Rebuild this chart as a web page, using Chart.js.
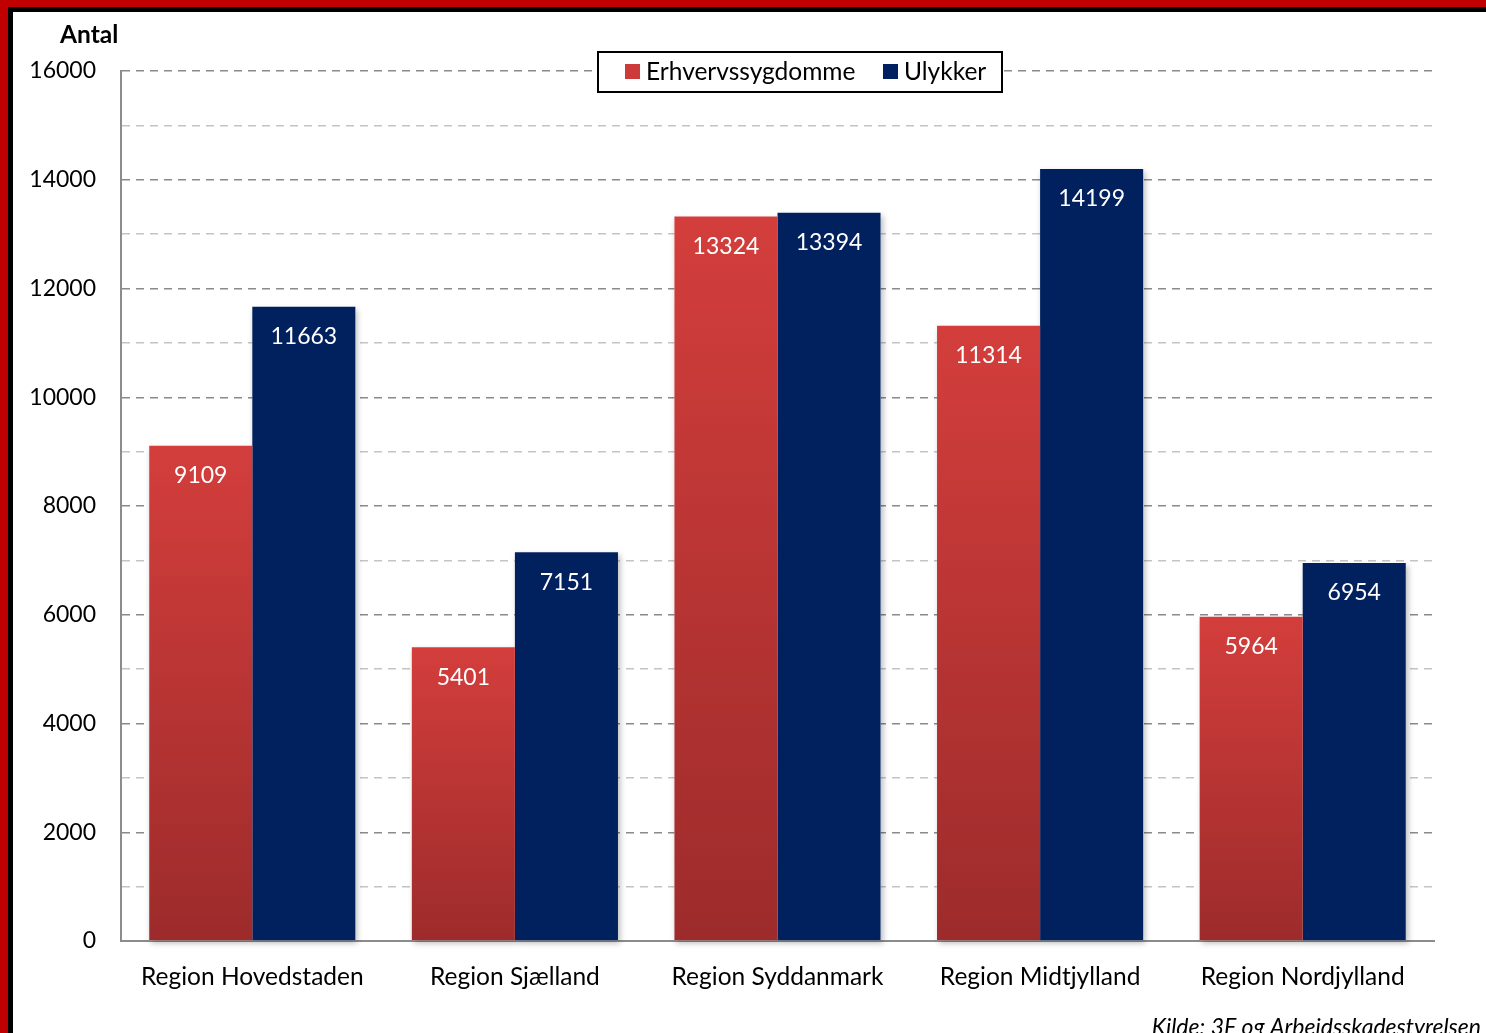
<!DOCTYPE html>
<html>
<head>
<meta charset="utf-8">
<script src="https://cdn.jsdelivr.net/npm/chart.js@4/dist/chart.umd.min.js"></script>
<style>
  html, body { margin: 0; padding: 0; background: #fff; }
  #wrap { position: relative; width: 1486px; height: 1033px; overflow: hidden; }
  canvas { position: absolute; left: 0; top: 0; }
</style>
</head>
<body>
<div id="wrap"><canvas id="chart" width="1486" height="1033"></canvas></div>
<script>
// data
const regions = ['Region Hovedstaden', 'Region Sjælland', 'Region Syddanmark', 'Region Midtjylland', 'Region Nordjylland'];
const erhvervssygdomme = [9109, 5401, 13324, 11314, 5964];
const ulykker = [11663, 7151, 13394, 14199, 6954];
const seriesNames = ['Erhvervssygdomme', 'Ulykker'];
const yMax = 16000;

const FONT = 'Lato, "Open Sans", sans-serif';

// red bars get their own top-to-bottom gradient
const redFill = (context) => {
    const chart = context.chart;
    const area = chart.chartArea;
    if (!area || context.type !== 'data') return '#c9393a';
    const y = chart.scales.y;
    const top = y.getPixelForValue(context.parsed.y);
    const base = y.getPixelForValue(0);
    const g = chart.ctx.createLinearGradient(0, top, 0, base);
    g.addColorStop(0, '#d33e3c');
    g.addColorStop(1, '#9d2b2b');
    return g;
};

// frame, title, legend, source, value labels
const decor = {
    id: 'decor',
    beforeDraw(chart) {
        const c = chart.ctx;
        c.save();
        c.fillStyle = '#c00000';
        c.fillRect(0, 0, chart.width, 7);
        c.fillRect(0, 0, 8, chart.height);
        c.fillStyle = '#000';
        c.fillRect(8, 7, chart.width, 5);
        c.fillRect(8, 7, 5, chart.height);
        c.restore();
    },
    beforeDatasetsDraw(chart) {
        // soft shadow under the bars
        const c = chart.ctx;
        c.save();
        c.shadowColor = 'rgba(0,0,0,0.28)';
        c.shadowBlur = 6;
        c.shadowOffsetX = 2;
        c.shadowOffsetY = 3;
        c.fillStyle = '#fff';
        chart.data.datasets.forEach((ds, i) => {
            chart.getDatasetMeta(i).data.forEach((bar) => {
                c.fillRect(bar.x - bar.width / 2, bar.y, bar.width, bar.base - bar.y);
            });
        });
        c.restore();
    },
    afterDatasetsDraw(chart) {
        const c = chart.ctx;
        c.save();
        c.font = '23px ' + FONT;
        c.fillStyle = '#fff';
        c.textAlign = 'center';
        c.textBaseline = 'middle';
        chart.data.datasets.forEach((ds, i) => {
            chart.getDatasetMeta(i).data.forEach((bar, j) => {
                c.fillText(String(ds.data[j]), bar.x, bar.y + 30);
            });
        });
        c.restore();
    },
    afterDraw(chart) {
        const c = chart.ctx;
        c.save();
        // axis title
        c.font = 'bold 24.5px ' + FONT;
        c.fillStyle = '#000';
        c.textBaseline = 'middle';
        c.textAlign = 'left';
        c.fillText('Antal', 60, 35);

        // legend box
        const lx = 598, ly = 52, lw = 404, lh = 40;
        c.fillStyle = '#fff';
        c.fillRect(lx, ly, lw, lh);
        c.lineWidth = 2;
        c.strokeStyle = '#000';
        c.strokeRect(lx, ly, lw, lh);
        c.font = '24.5px ' + FONT;
        const colors = ['#cc3a39', '#002060'];
        const xs = [625, 883];
        seriesNames.forEach((name, i) => {
            c.fillStyle = colors[i];
            c.fillRect(xs[i], 64, 15, 15);
            c.fillStyle = '#000';
            c.fillText(name, xs[i] + 21, 72);
        });

        // source
        c.font = 'italic 23px ' + FONT;
        c.textAlign = 'right';
        c.fillText('Kilde: 3F og Arbejdsskadestyrelsen', 1481, 1028);
        c.restore();
    }
};

new Chart(document.getElementById('chart'), {
    type: 'bar',
    data: {
        labels: regions,
        datasets: [
            { label: seriesNames[0], data: erhvervssygdomme, backgroundColor: redFill },
            { label: seriesNames[1], data: ulykker, backgroundColor: '#00205e' }
        ]
    },
    options: {
        responsive: false,
        animation: false,
        devicePixelRatio: 1,
        layout: { padding: { top: 71, right: 52, bottom: 20, left: 0 } },
        datasets: {
            bar: { categoryPercentage: 0.785, barPercentage: 1, borderWidth: 0 }
        },
        plugins: {
            legend: { display: false },
            tooltip: { enabled: false }
        },
        scales: {
            x: {
                grid: { display: false, drawTicks: false },
                border: { color: '#8c8c8c', width: 2 },
                ticks: { color: '#000', font: { family: FONT, size: 24.5 }, padding: 21 },
                afterFit: (s) => { s.height = 72; }
            },
            y: {
                min: 0,
                max: yMax,
                grid: {
                    drawTicks: false,
                    lineWidth: 1.5,
                    color: (ctx) => (ctx.tick && ctx.tick.value % 2000 === 0) ? '#8a8a8a' : '#c4c4c4'
                },
                border: { color: '#8c8c8c', width: 2, dash: [8, 6] },
                ticks: {
                    stepSize: 1000,
                    color: '#000',
                    font: { family: FONT, size: 23 },
                    padding: 25,
                    callback: (v) => (v % 2000 === 0 ? String(v) : '')
                },
                afterFit: (s) => { s.width = 121; }
            }
        }
    },
    plugins: [decor]
});
</script>
</body>
</html>
